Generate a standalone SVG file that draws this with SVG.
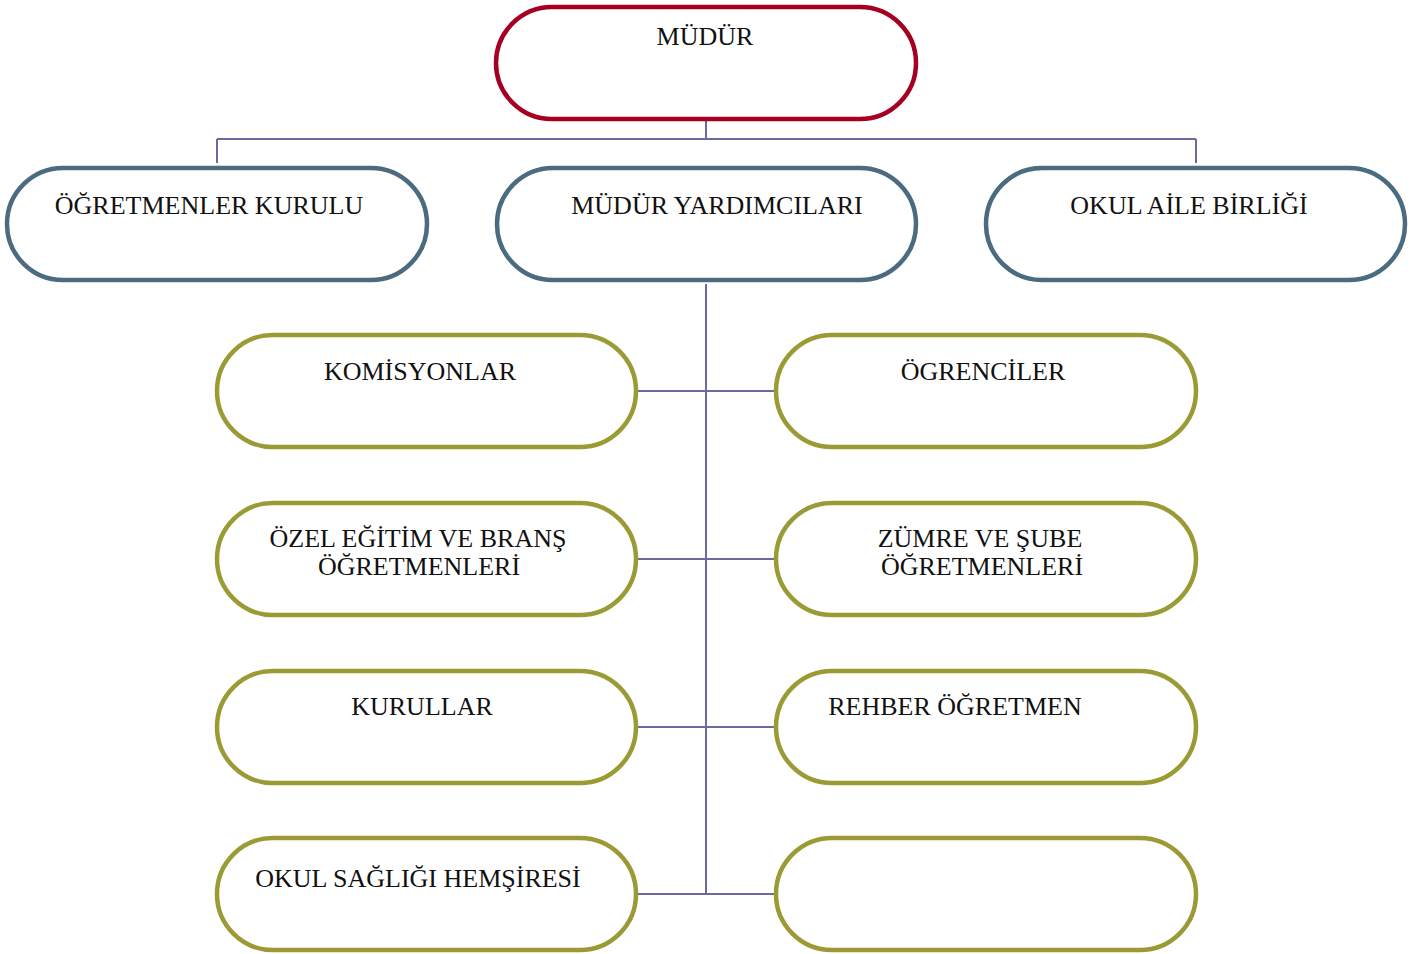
<svg xmlns="http://www.w3.org/2000/svg" width="1423" height="954" viewBox="0 0 1423 954">
<style>
.box{fill:#fff;stroke-width:4.5}
.top{stroke:#A50021}
.mid{stroke:#4B6B80}
.low{stroke:#9B9B35}
.con{stroke:#6A6A9E;stroke-width:2;fill:none}
text{font-family:"Liberation Serif","Times New Roman",serif;font-size:26px;fill:#111;text-anchor:middle}
</style>
<rect width="1423" height="954" fill="#fff"/>
<g id="connectors">
<path class="con" d="M706 119V139M217 139H1196M217 139V163M1196 139V163M706 284V894"/>
<path class="con" d="M636 391H776M636 559H776M636 727H776M636 894H776"/>
</g>
<g id="n-mudur"><rect class="box top" x="496" y="7" width="420" height="112" rx="56"/><text x="705" y="45">MÜDÜR</text></g>
<g id="n-ogretmenler-kurulu"><rect class="box mid" x="7" y="168" width="420" height="112" rx="56"/><text x="209" y="214">ÖĞRETMENLER KURULU</text></g>
<g id="n-mudur-yardimcilari"><rect class="box mid" x="497" y="168" width="419" height="112" rx="56"/><text x="717" y="214">MÜDÜR YARDIMCILARI</text></g>
<g id="n-okul-aile"><rect class="box mid" x="986" y="168" width="419" height="112" rx="56"/><text x="1189" y="214">OKUL AİLE BİRLİĞİ</text></g>
<g id="n-komisyonlar"><rect class="box low" x="217" y="335" width="419" height="112" rx="56"/><text x="420" y="380">KOMİSYONLAR</text></g>
<g id="n-ogrenciler"><rect class="box low" x="776" y="335" width="420" height="112" rx="56"/><text x="983" y="380">ÖGRENCİLER</text></g>
<g id="n-ozel-egitim"><rect class="box low" x="217" y="503" width="419" height="112" rx="56"/><text x="418" y="547">ÖZEL EĞİTİM VE BRANŞ</text><text x="419" y="575">ÖĞRETMENLERİ</text></g>
<g id="n-zumre"><rect class="box low" x="776" y="503" width="420" height="112" rx="56"/><text x="980" y="547">ZÜMRE VE ŞUBE</text><text x="982" y="575">ÖĞRETMENLERİ</text></g>
<g id="n-kurullar"><rect class="box low" x="217" y="671" width="419" height="112" rx="56"/><text x="422" y="715">KURULLAR</text></g>
<g id="n-rehber"><rect class="box low" x="776" y="671" width="420" height="112" rx="56"/><text x="955" y="715">REHBER ÖĞRETMEN</text></g>
<g id="n-saglik"><rect class="box low" x="217" y="838" width="419" height="112" rx="56"/><text x="418" y="887">OKUL SAĞLIĞI HEMŞİRESİ</text></g>
<g id="n-empty"><rect class="box low" x="776" y="838" width="420" height="112" rx="56"/></g>
</svg>
